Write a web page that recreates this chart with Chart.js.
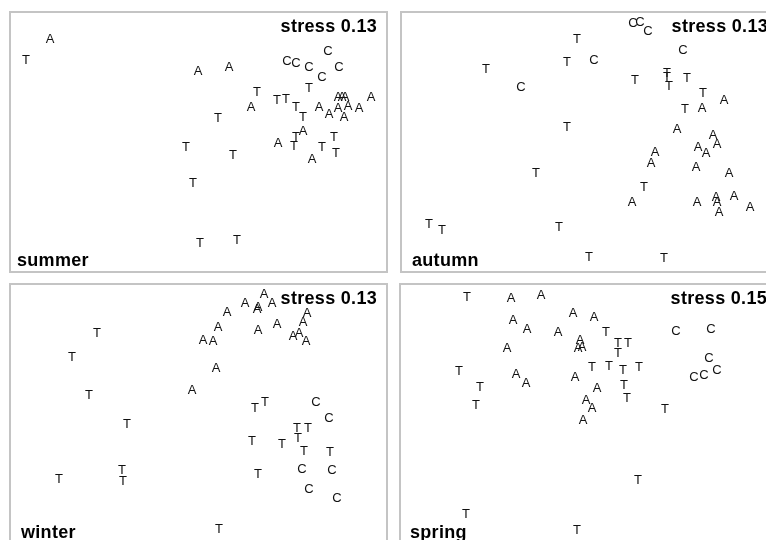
<!DOCTYPE html>
<html>
<head>
<meta charset="utf-8">
<title>NMDS by season</title>
<script src="https://cdn.jsdelivr.net/npm/chart.js@4.4.1/dist/chart.umd.min.js"></script>
<style>
  html, body { margin:0; padding:0; background:#fff; }
  body { width:766px; height:540px; overflow:hidden; position:relative; }
  .panel { position:absolute; width:379px; height:262px; }
  .frame { position:absolute; inset:0; border:2px solid #c4c4c4; box-sizing:border-box; pointer-events:none; }
</style>
</head>
<body>
<div class="panel" style="left:9px;top:11px"><canvas id="cSummer"></canvas><div class="frame"></div></div>
<div class="panel" style="left:400px;top:11px"><canvas id="cAutumn"></canvas><div class="frame"></div></div>
<div class="panel" style="left:9px;top:283px"><canvas id="cWinter"></canvas><div class="frame"></div></div>
<div class="panel" style="left:399px;top:283px"><canvas id="cSpring"></canvas><div class="frame"></div></div>
<script>
/* NMDS ordination, one panel per season. Letters are the site groups
 * (A, T, C). Coordinates in panel units (y down). */

const SEASONS = ["summer", "autumn", "winter", "spring"];
const STRESS  = ["0.13", "0.13", "0.13", "0.15"];

// ---- summer ----
const SUMMER_A = [[40,27],[188,59],[219,55],[241,95],[309,95],[319,102],[328,85],[332,85],[335,85],
                  [328,96],[338,94],[334,105],[349,96],[361,85],[293,119],[268,131],[302,147]];
const SUMMER_T = [[16,48],[247,80],[208,106],[176,135],[223,143],[183,171],[190,231],[227,228],[299,76],
                  [267,88],[276,87],[286,95],[293,105],[286,125],[284,134],[312,135],[324,125],[326,141]];
const SUMMER_C = [[277,49],[286,51],[299,55],[318,39],[329,55],[312,65]];

// ---- autumn ----
const AUTUMN_A = [[301,96],[323,88],[276,117],[312,123],[316,132],[297,135],[305,141],[254,140],[250,151],
                  [295,155],[328,161],[231,190],[296,190],[315,185],[316,190],[318,200],[333,184],[349,195]];
const AUTUMN_T = [[176,27],[166,50],[85,57],[166,115],[135,161],[28,212],[41,218],[158,215],[234,68],
                  [266,61],[266,65],[268,74],[286,66],[302,81],[284,97],[243,175],[188,245],[263,246]];
const AUTUMN_C = [[120,75],[193,48],[232,11],[239,10],[247,19],[282,38]];

// ---- winter ----
const WINTER_A = [[254,10],[262,19],[235,19],[248,23],[247,25],[217,28],[208,43],[193,56],[203,57],
                  [248,46],[267,40],[297,29],[293,38],[283,52],[289,49],[296,57],[206,84],[182,106]];
const WINTER_T = [[87,49],[62,73],[79,111],[117,140],[49,195],[112,186],[113,197],[245,124],[255,118],
                  [287,144],[298,144],[288,154],[242,157],[272,160],[294,167],[320,168],[248,190],[209,245]];
const WINTER_C = [[306,118],[319,134],[292,185],[322,186],[299,205],[327,214]];

// ---- spring ----
const SPRING_A = [[111,14],[141,11],[173,29],[113,36],[127,45],[158,48],[107,64],[116,90],[126,99],
                  [175,93],[194,33],[180,56],[178,64],[182,63],[197,104],[186,116],[192,124],[183,136]];
const SPRING_T = [[67,13],[59,87],[80,103],[76,121],[66,230],[177,246],[206,48],[218,59],[228,59],
                  [218,69],[192,83],[209,82],[223,86],[239,83],[224,101],[227,114],[265,125],[238,196]];
const SPRING_C = [[276,47],[311,45],[309,74],[294,93],[304,91],[317,86]];

const GROUPS = ["A", "T", "C"];
const POINTS = {
  summer: [SUMMER_A, SUMMER_T, SUMMER_C],
  autumn: [AUTUMN_A, AUTUMN_T, AUTUMN_C],
  winter: [WINTER_A, WINTER_T, WINTER_C],
  spring: [SPRING_A, SPRING_T, SPRING_C],
};
const CANVAS = { summer:"cSummer", autumn:"cAutumn", winter:"cWinter", spring:"cSpring" };
const LABEL_X = { summer:8, autumn:12, winter:12, spring:11 };

const FONT = '"Liberation Sans", Arial, Helvetica, sans-serif';

/* draw each point as its group letter, at the position the scales give it */
const letters = {
  id: "letters",
  afterDatasetsDraw(chart){
    const ctx = chart.ctx;
    ctx.save();
    ctx.font = "13px " + FONT;
    ctx.fillStyle = "#111";
    ctx.textAlign = "center";
    ctx.textBaseline = "middle";
    chart.data.datasets.forEach((ds, i) => {
      chart.getDatasetMeta(i).data.forEach(el => ctx.fillText(ds.label, el.x, el.y + 0.5));
    });
    ctx.restore();
  }
};

/* season name bottom-left, stress top-right */
const captions = {
  id: "captions",
  afterDraw(chart, args, opts){
    const ctx = chart.ctx, a = chart.chartArea;
    ctx.save();
    ctx.font = "bold 18px " + FONT;
    ctx.letterSpacing = "0.3px";
    ctx.fillStyle = "#000";
    ctx.textBaseline = "alphabetic";
    ctx.textAlign = "left";
    ctx.fillText(opts.season, a.left + opts.labelX, a.bottom - 7);
    ctx.textAlign = "right";
    ctx.fillText("stress " + opts.stress, a.right - 11, a.top + 21);
    ctx.restore();
  }
};

SEASONS.forEach((season, k) => {
  const datasets = GROUPS.map((g, j) => ({
    label: g,
    data: POINTS[season][j].map(([x, y]) => ({ x, y })),
    pointRadius: 0,
    pointHoverRadius: 0,
  }));
  new Chart(document.getElementById(CANVAS[season]), {
    type: "scatter",
    data: { datasets },
    options: {
      responsive: true,
      maintainAspectRatio: false,
      animation: false,
      events: [],
      layout: { padding: 0 },
      plugins: {
        legend: { display: false },
        tooltip: { enabled: false },
        captions: { season, stress: STRESS[k], labelX: LABEL_X[season] },
      },
      scales: {
        x: { type: "linear", display: false, min: -1, max: 378 },
        y: { type: "linear", display: false, min: -1, max: 261, reverse: true },
      },
    },
    plugins: [letters, captions],
  });
});
</script>
</body>
</html>
